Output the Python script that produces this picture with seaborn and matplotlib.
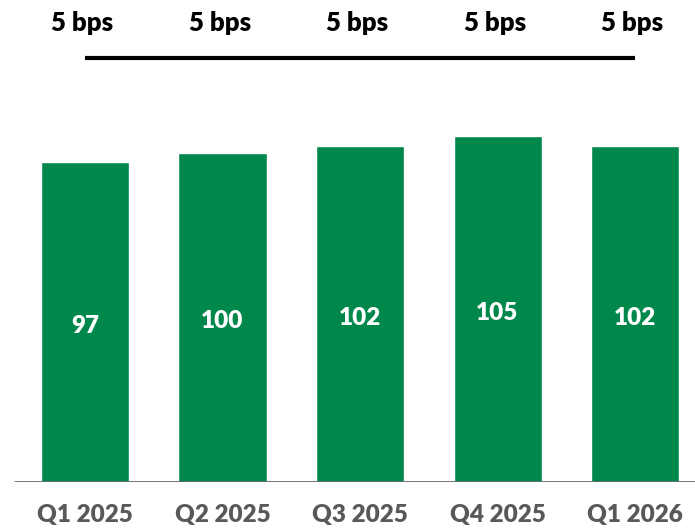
import numpy as np
import pandas as pd
import seaborn as sns
from matplotlib import pyplot as plt

#%% Data

QUARTERS = ['Q1 2025', 'Q2 2025', 'Q3 2025', 'Q4 2025', 'Q1 2026']
VALUES = [97, 100, 102, 105, 102]
BPS_LABELS = ['5 bps', '5 bps', '5 bps', '5 bps', '5 bps']

GREEN = '#00874B'
GREY = '#595959'

#%% Plot

sns.set_style('white')
plt.rcParams['font.family'] = ['Lato', 'DejaVu Sans']

df = pd.DataFrame({'quarter': QUARTERS, 'value': VALUES})

fig = plt.figure(figsize=(6.95, 5.28), dpi=100)
ax = fig.add_axes([0, 46.5 / 528, 1, 1 - 46.5 / 528])

sns.barplot(data=df, x='quarter', y='value', color=GREEN, saturation=1,
            width=0.64, ax=ax)

px_per_unit = 3.29
ax.set_xlim(-85 / 137.5, (695 - 85) / 137.5)
ax.set_ylim(0, 481.5 / px_per_unit)

# value labels inside bars
for i, v in enumerate(VALUES):
    ax.text(i, v / 2 - 1.2, str(v), ha='center', va='center', color='white',
            fontsize=17.5, fontweight='heavy')

# bps labels and bracket line on top
line_y = (481.5 - 58) / px_per_unit
ax.plot([0, len(QUARTERS) - 1], [line_y, line_y], color='black', lw=3,
        solid_capstyle='butt', clip_on=False)
for i, lab in enumerate(BPS_LABELS):
    ax.text(i - 0.02, (481.5 - 23) / px_per_unit, lab, ha='center', va='center',
            color='black', fontsize=18.5, fontweight='heavy')

# baseline
ax.axhline(0, xmin=15 / 695, xmax=1, color='#666666', lw=2)

sns.despine(ax=ax, left=True, bottom=True, top=True, right=True)
ax.set_yticks([])
ax.set_xlabel('')
ax.set_ylabel('')
ax.tick_params(axis='x', length=0, pad=16)
for t in ax.get_xticklabels():
    t.set_fontsize(17.5)
    t.set_fontweight('heavy')
    t.set_color(GREY)

plt.savefig('out.png', dpi=100)
plt.close()
